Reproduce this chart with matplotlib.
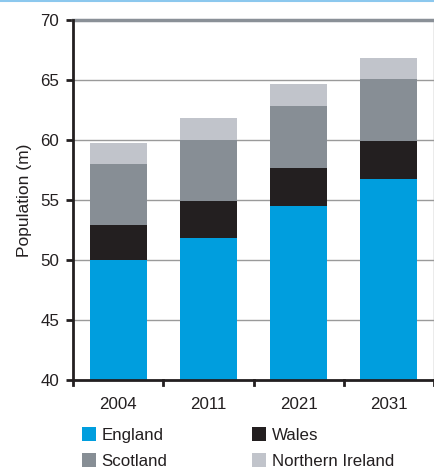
import matplotlib
matplotlib.use("Agg")
import matplotlib.pyplot as plt
import numpy as np
from matplotlib.patches import Patch
from matplotlib.lines import Line2D

plt.rcParams['font.family'] = ['Liberation Sans', 'DejaVu Sans']

years = ["2004", "2011", "2021", "2031"]
england = [50.0, 51.85, 54.5, 56.75]
wales = [2.9, 3.05, 3.15, 3.15]
scotland = [5.1, 5.1, 5.15, 5.15]
n_ireland = [1.75, 1.8, 1.85, 1.8]

series = [("England", england, "#009EDE"),
          ("Wales", wales, "#231F20"),
          ("Scotland", scotland, "#878E95"),
          ("Northern Ireland", n_ireland, "#C1C4CB")]

fig = plt.figure(figsize=(4.35, 4.69), dpi=100)
ax = fig.add_axes([73/435, 1 - 380/469, 361/435, 360/469])

x = np.arange(len(years))
bottom = np.zeros(len(years))
for name, vals, col in series:
    ax.bar(x, vals, bottom=bottom, width=0.63, color=col, zorder=3, label=name)
    bottom += np.array(vals)

ax.set_ylim(40, 70)
ax.set_xlim(-0.5, len(years) - 0.5)
ax.set_yticks(np.arange(40, 71, 5))
ax.yaxis.grid(True, color="#9a9a9a", linewidth=1.0, zorder=0)
ax.axhline(70, color="#8a9097", linewidth=2.5, zorder=4, clip_on=False)

fs = 12.2
ax.set_xticks(x)
ax.set_xticklabels(years, fontsize=fs, color="#231F20")
ax.tick_params(axis='x', length=0, pad=12)
for b in np.arange(-0.5, len(years), 1.0):
    ax.add_line(Line2D([b, b], [0, -0.015], transform=ax.get_xaxis_transform(),
                       color="#231F20", linewidth=2, clip_on=False))

ax.tick_params(axis='y', labelsize=fs, labelcolor="#231F20", length=5,
               width=2, color="#231F20", direction='out', pad=5)

for side in ["left", "bottom"]:
    ax.spines[side].set_color("#231F20")
    ax.spines[side].set_linewidth(2)
    ax.spines[side].set_zorder(5)
ax.spines["top"].set_visible(False)
ax.spines["right"].set_color("#9a9a9a")
ax.spines["right"].set_linewidth(1)

ax.set_ylabel("Population (m)", fontsize=fs + 0.3, color="#231F20", labelpad=6)

handles = [Patch(facecolor=c, edgecolor='none') for _, _, c in series]
labels = [n for n, _, _ in series]
order = [0, 2, 1, 3]
fig.legend([handles[i] for i in order], [labels[i] for i in order],
           ncol=2, loc='upper left', bbox_to_anchor=(82/435, 1 - 427/469),
           frameon=False, fontsize=fs, handlelength=0.85, handleheight=0.85,
           handletextpad=0.3, columnspacing=5.0, labelspacing=0.62,
           borderaxespad=0, borderpad=0, labelcolor="#231F20")

fig.add_artist(Line2D([0, 1], [1 - 0.6/469, 1 - 0.6/469], transform=fig.transFigure,
                      color="#8CC8EE", linewidth=1.5))

fig.savefig("out.png", dpi=100)
